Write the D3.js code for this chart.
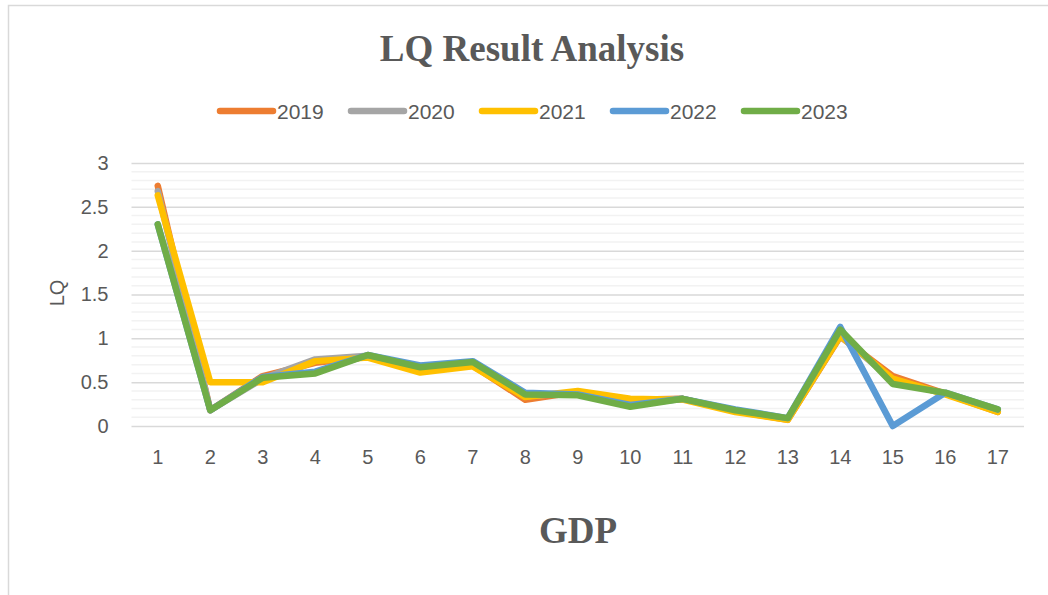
<!DOCTYPE html>
<html><head><meta charset="utf-8">
<script src="https://cdn.jsdelivr.net/npm/d3@7"></script>
<style>body{margin:0;background:#fff}svg{display:block}</style>
</head><body>
<svg id="c" width="1048" height="595"></svg>
<script>
const categories = ["1","2","3","4","5","6","7","8","9","10","11","12","13","14","15","16","17"];
const seriesNames = ["2019","2020","2021","2022","2023"];
const s2019 = [2.74,0.18,0.57,0.72,0.79,0.63,0.69,0.30,0.39,0.30,0.31,0.17,0.07,1.02,0.57,0.37,0.16];
const s2020 = [2.68,0.18,0.54,0.76,0.80,0.65,0.71,0.34,0.38,0.28,0.31,0.17,0.08,1.03,0.52,0.37,0.17];
const s2021 = [2.63,0.50,0.50,0.74,0.78,0.61,0.68,0.33,0.40,0.31,0.30,0.16,0.07,1.03,0.54,0.36,0.16];
const s2022 = [2.30,0.18,0.56,0.62,0.81,0.69,0.74,0.38,0.36,0.24,0.31,0.19,0.09,1.13,0.00,0.38,0.19];
const s2023 = [2.30,0.18,0.55,0.60,0.81,0.67,0.73,0.36,0.35,0.22,0.31,0.18,0.09,1.10,0.48,0.38,0.19];
const yTicks = [0,0.5,1,1.5,2,2.5,3];
const colors = ["#ED7D31","#A5A5A5","#FFC000","#5B9BD5","#70AD47"];
const allSeries = [s2019,s2020,s2021,s2022,s2023];

const svg = d3.select("#c");
const txt = "#595959";
// frame
svg.append("rect").attr("x",8.5).attr("y",5.5).attr("width",1100).attr("height",700)
  .attr("fill","none").attr("stroke","#D9D9D9").attr("stroke-width",1.5);

const x = d3.scaleBand().domain(categories).range([131.5,1024]).padding(0);
const y = d3.scaleLinear().domain([0,3]).range([426,163]);

// minor gridlines
const minor = d3.range(0,3.0001,0.1).filter(v=>Math.abs(v*2-Math.round(v*2))>1e-6);
svg.append("g").selectAll("line").data(minor).join("line")
  .attr("x1",131.5).attr("x2",1024).attr("y1",d=>y(d)).attr("y2",d=>y(d))
  .attr("stroke","#F2F2F2").attr("stroke-width",1.5);
// major gridlines via axis
const yAxis = svg.append("g").attr("transform","translate(131.5,0)")
  .call(d3.axisLeft(y).tickValues(yTicks).tickFormat(d3.format("~g")).tickSize(-(1024-131.5)).tickPadding(23));
yAxis.select(".domain").remove();
yAxis.selectAll("line").attr("stroke","#D9D9D9").attr("stroke-width",1.5);
yAxis.selectAll("text").attr("fill",txt).style("font-family","Liberation Sans, Arial, sans-serif").style("font-size","20px");

const xAxis = svg.append("g").attr("transform","translate(0,426)")
  .call(d3.axisBottom(x).tickSize(0).tickPadding(24));
xAxis.select(".domain").remove();
xAxis.selectAll("text").attr("fill",txt).style("font-family","Liberation Sans, Arial, sans-serif").style("font-size","20px");

// lines
const line = d3.line().x((d,i)=>x(categories[i])+x.bandwidth()/2).y(d=>y(d));
svg.append("g").selectAll("path").data(allSeries).join("path")
  .attr("d",line).attr("fill","none").attr("stroke",(d,i)=>colors[i])
  .attr("stroke-width",6.5).attr("stroke-linejoin","round").attr("stroke-linecap","round");

// title
svg.append("text").attr("x",532).attr("y",61).attr("text-anchor","middle")
  .attr("fill",txt).style("font-family","Liberation Serif, Times New Roman, serif")
  .style("font-weight","bold").style("font-size","37px").text("LQ Result Analysis");
// x axis title
svg.append("text").attr("x",578).attr("y",543).attr("text-anchor","middle")
  .attr("fill",txt).style("font-family","Liberation Serif, Times New Roman, serif")
  .style("font-weight","bold").style("font-size","37px").text("GDP");
// y axis title
svg.append("text").attr("transform","translate(64,293) rotate(-90)").attr("text-anchor","middle")
  .attr("fill",txt).style("font-family","Liberation Sans, Arial, sans-serif").style("font-size","20px").text("LQ");

// legend
const legendX = [218,349,480,611,742];
const lg = svg.append("g").selectAll("g").data(seriesNames).join("g")
  .attr("transform",(d,i)=>`translate(${legendX[i]},111)`);
lg.append("line").attr("x1",2).attr("x2",55).attr("y1",0).attr("y2",0)
  .attr("stroke",(d,i)=>colors[i]).attr("stroke-width",6.5).attr("stroke-linecap","round");
lg.append("text").attr("x",59).attr("y",7.5).attr("fill",txt)
  .style("font-family","Liberation Sans, Arial, sans-serif").style("font-size","21px").text(d=>d);
</script>
</body></html>
